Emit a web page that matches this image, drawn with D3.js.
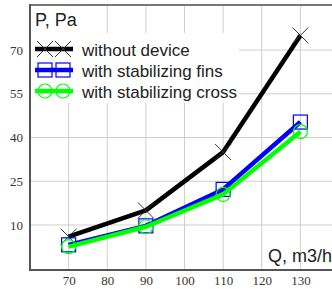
<!DOCTYPE html>
<meta charset="utf-8">
<title>Pressure vs flow</title>
<script src="https://d3js.org/d3.v7.min.js"></script>
<style>
  body { margin: 0; background: #fff; }
  svg { display: block; }
</style>
<body>
<script>

// data
var flow = [70, 90, 110, 130];
var withoutDevice = [6, 15, 35, 75];
var withFins = [3.2, 9.7, 22.2, 45.3];
var withCross = [2.6, 9.4, 20.5, 42];
var xTicks = [70, 80, 90, 100, 110, 120, 130];
var yTicks = [10, 25, 40, 55, 70];
var seriesNames = ["without device", "with stabilizing fins", "with stabilizing cross"];

var w = 332, h = 289;

var svg = d3.select("body").append("svg")
  .attr("width", w)
  .attr("height", h);

var x = d3.scaleLinear().domain([60, 140]).range([30, 339]);
var y = d3.scaleLinear().domain([-5.43, 85.43]).range([270, 5]);

// grid
var grid = svg.append("g");
grid.selectAll("line.gx").data(xTicks).enter().append("line")
  .attr("x1", function(d) { return x(d); })
  .attr("x2", function(d) { return x(d); })
  .attr("y1", 5).attr("y2", 270)
  .attr("stroke", "#cfcfcf").attr("stroke-width", 1);
grid.selectAll("line.gy").data(yTicks).enter().append("line")
  .attr("x1", 30).attr("x2", w)
  .attr("y1", function(d) { return y(d); })
  .attr("y2", function(d) { return y(d); })
  .attr("stroke", "#cfcfcf").attr("stroke-width", 1);

// white boxes behind title and legend
svg.append("rect").attr("x", 31).attr("y", 6).attr("width", 73).attr("height", 27).attr("fill", "#fff");
svg.append("rect").attr("x", 31).attr("y", 33).attr("width", 208).attr("height", 70).attr("fill", "#fff");

// frame
svg.append("line").attr("x1", 30).attr("x2", w).attr("y1", 5).attr("y2", 5)
  .attr("stroke", "#777").attr("stroke-width", 2);

// axes
var xAxis = d3.axisBottom(x).tickValues(xTicks).tickSize(0).tickPadding(6);
var yAxis = d3.axisLeft(y).tickValues(yTicks).tickSize(0).tickPadding(7);

var gx = svg.append("g").attr("transform", "translate(0,270)").call(xAxis);
var gy = svg.append("g").attr("transform", "translate(30,0)").call(yAxis);
[gx, gy].forEach(function(g) {
  g.select(".domain").remove();
  g.selectAll("text")
    .attr("font-family", "'Liberation Serif', serif")
    .attr("font-size", 13)
    .attr("fill", "#3a3430");
});
svg.append("line").attr("x1", 30).attr("x2", 30).attr("y1", 4).attr("y2", 271)
  .attr("stroke", "#555").attr("stroke-width", 2);
svg.append("line").attr("x1", 29).attr("x2", w).attr("y1", 270).attr("y2", 270)
  .attr("stroke", "#555").attr("stroke-width", 2);

// axis titles
svg.append("text").attr("x", 35).attr("y", 26).text("P, Pa")
  .attr("font-family", "'Liberation Sans', Arial, sans-serif")
  .attr("font-size", 18).attr("fill", "#222");
svg.append("text").attr("x", 332).attr("y", 262).attr("text-anchor", "end").text("Q, m3/h")
  .attr("font-family", "'Liberation Sans', Arial, sans-serif")
  .attr("font-size", 18).attr("fill", "#222");

// markers
function marker(g, type, color, cx, cy) {
  if (type == "x") {
    g.append("path")
      .attr("d", "M" + (cx - 8) + "," + (cy - 8) + "L" + (cx + 8) + "," + (cy + 8) +
                 "M" + (cx - 8) + "," + (cy + 8) + "L" + (cx + 8) + "," + (cy - 8))
      .attr("stroke", "#333").attr("stroke-width", 1).attr("fill", "none");
  } else if (type == "square") {
    g.append("rect").attr("x", cx - 7).attr("y", cy - 7).attr("width", 14).attr("height", 14)
      .attr("stroke", color).attr("stroke-width", 1.2).attr("fill", "none");
  } else {
    g.append("circle").attr("cx", cx).attr("cy", cy).attr("r", 7)
      .attr("stroke", color).attr("stroke-width", 1.2).attr("fill", "none");
  }
}

var series = [
  { name: seriesNames[0], values: withoutDevice, color: "#000000", type: "x" },
  { name: seriesNames[1], values: withFins, color: "#0000ff", type: "square" },
  { name: seriesNames[2], values: withCross, color: "#00ff00", type: "circle" }
];

var line = d3.line()
  .x(function(d) { return x(d[0]); })
  .y(function(d) { return y(d[1]); });

series.forEach(function(s) {
  var g = svg.append("g");
  var pts = flow.map(function(f, i) { return [f, s.values[i]]; });
  g.append("path").datum(pts)
    .attr("d", line)
    .attr("fill", "none")
    .attr("stroke", s.color)
    .attr("stroke-width", 4.5)
    .attr("stroke-linejoin", "round");
  pts.forEach(function(p) { marker(g, s.type, s.color, x(p[0]), y(p[1])); });
});

// legend
var leg = svg.append("g");
series.forEach(function(s, i) {
  var ly = 49 + i * 21;
  leg.append("line").attr("x1", 35).attr("x2", 73).attr("y1", ly).attr("y2", ly)
    .attr("stroke", s.color).attr("stroke-width", 4.5);
  marker(leg, s.type, s.color, 45, ly);
  marker(leg, s.type, s.color, 63, ly);
  leg.append("text").attr("x", 82).attr("y", ly + 6.5).text(s.name)
    .attr("font-family", "'Liberation Sans', Arial, sans-serif")
    .attr("font-size", 17).attr("fill", "#222");
});

</script>
</body>
